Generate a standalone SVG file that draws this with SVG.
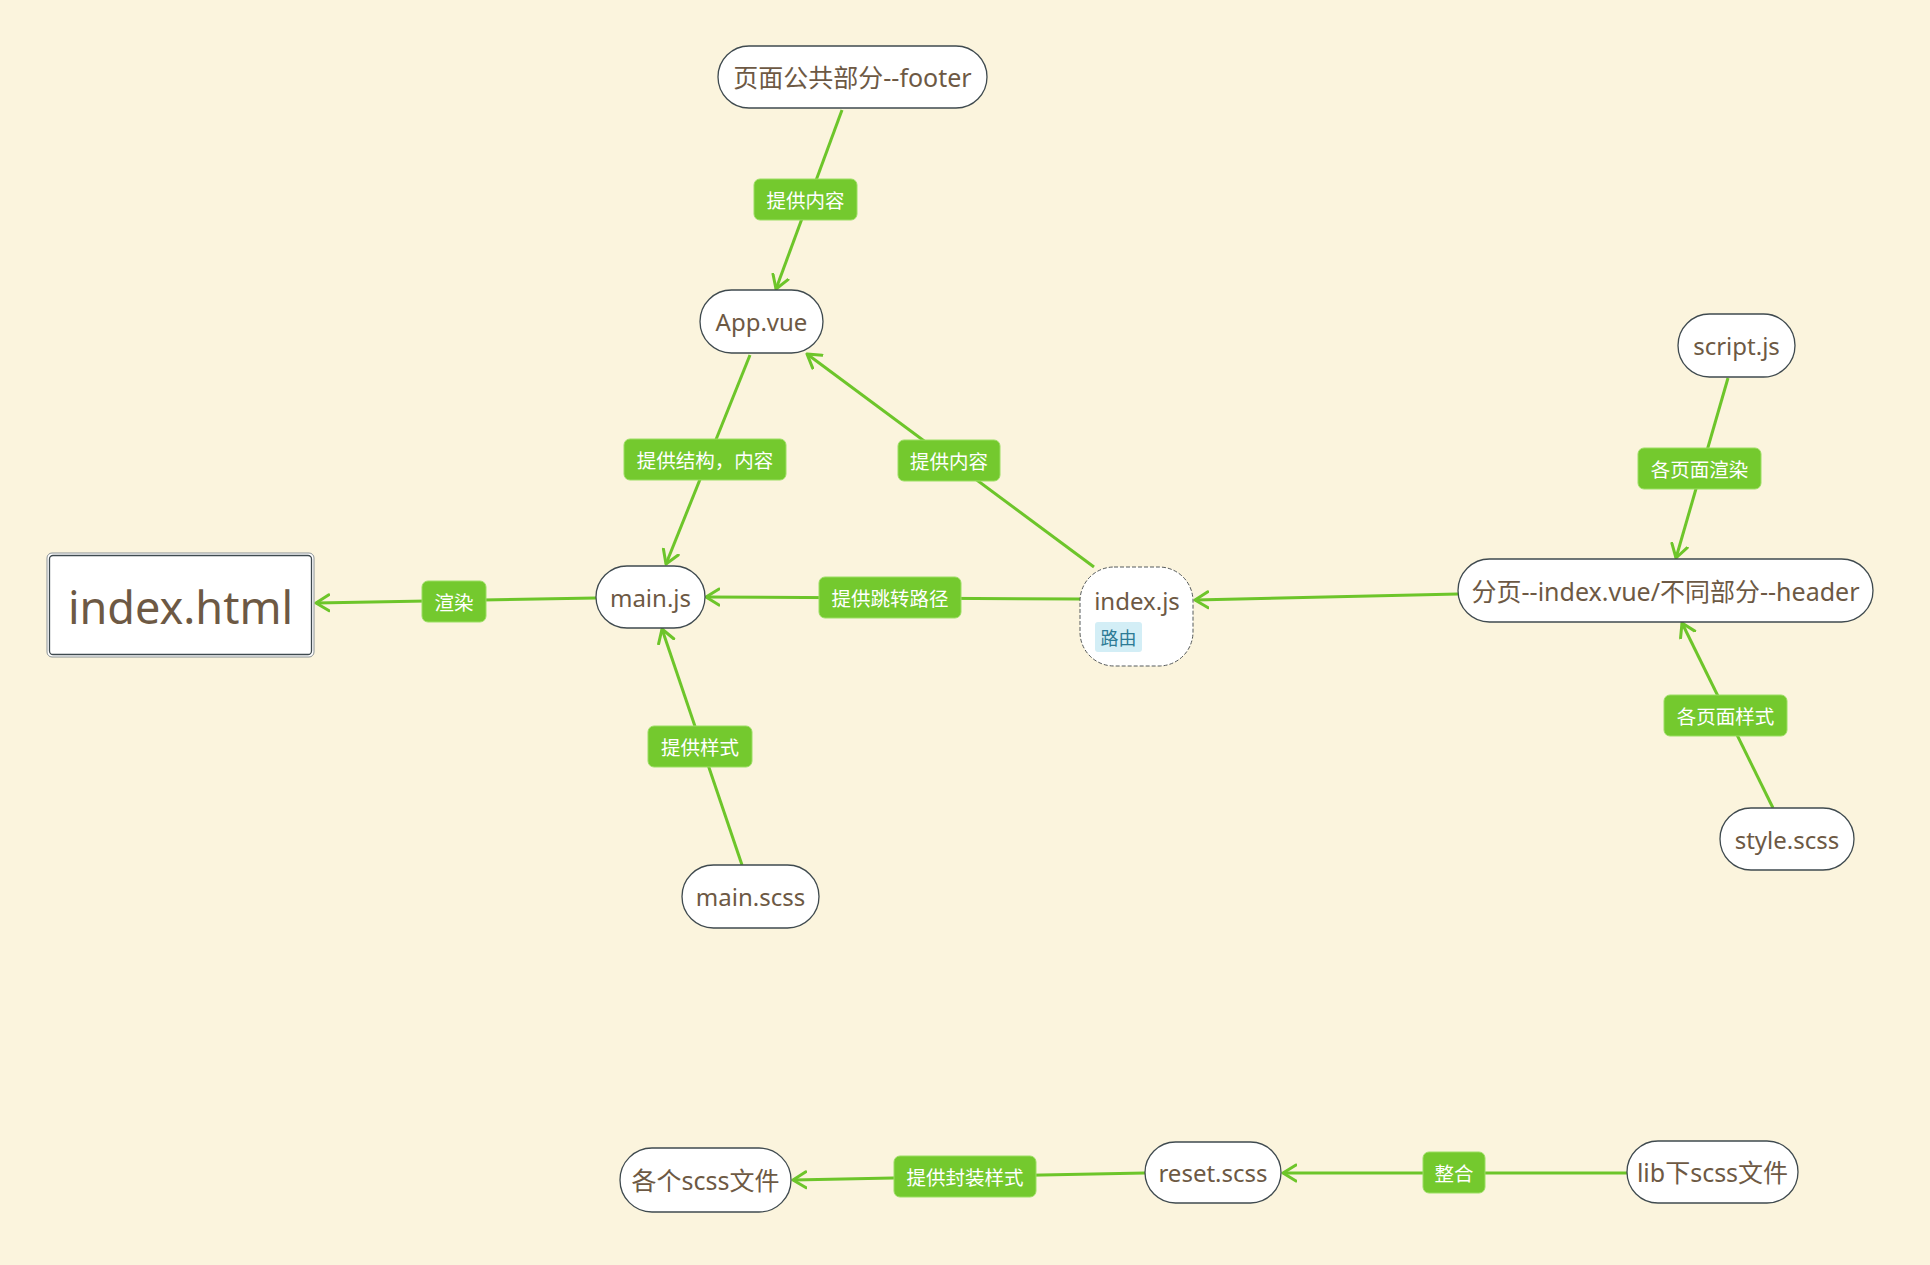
<svg xmlns="http://www.w3.org/2000/svg" width="1930" height="1265" viewBox="0 0 1930 1265">
  <style>
    .node rect.shape { fill: #ffffff; stroke: #3f4a4f; stroke-width: 1.3; }
    .node text { font-family: "Noto Sans", "Noto Sans CJK SC", sans-serif; font-size: 24px; fill: #6d5944; text-anchor: middle; dominant-baseline: central; }
    .node text.cjk { font-size: 25px; }
    .edge { stroke: #6dc52a; stroke-width: 3; fill: none; marker-end: url(#arrow); }
    .label rect { fill: #74c92e; stroke: #9bde63; stroke-width: 1; }
    .label text { font-family: "Noto Sans CJK SC", "Noto Sans", sans-serif; font-size: 19.5px; fill: #ffffff; text-anchor: middle; dominant-baseline: central; }
  </style>
  <defs>
    <marker id="arrow" viewBox="0 0 16 20" refX="14" refY="10" markerWidth="16" markerHeight="20" markerUnits="userSpaceOnUse" orient="auto">
      <path d="M1,2 L14,10 L1,18" fill="none" stroke="#6dc52a" stroke-width="3" stroke-linecap="round" stroke-linejoin="round"/>
    </marker>
  </defs>

  <rect x="0" y="0" width="1930" height="1265" fill="#fbf4dd"/>

  <!-- connectors -->
  <g id="connectors">
    <line class="edge" x1="842" y1="110" x2="776" y2="289"/>
    <line class="edge" x1="750" y1="355" x2="666" y2="564"/>
    <line class="edge" x1="1094" y1="567" x2="807" y2="354"/>
    <line class="edge" x1="1080" y1="599" x2="706" y2="597"/>
    <line class="edge" x1="596" y1="598" x2="316" y2="603"/>
    <line class="edge" x1="742" y1="865" x2="662" y2="629"/>
    <line class="edge" x1="1458" y1="594" x2="1195" y2="600"/>
    <line class="edge" x1="1728" y1="378" x2="1676" y2="558"/>
    <line class="edge" x1="1773" y1="808" x2="1682" y2="623"/>
    <line class="edge" x1="1145" y1="1173" x2="793" y2="1180"/>
    <line class="edge" x1="1627" y1="1173" x2="1283" y2="1173"/>
  </g>

  <!-- connector labels -->
  <g id="labels">
    <g class="label"><rect x="754" y="179" width="103" height="41" rx="6"/><text x="805.5" y="199.5">提供内容</text></g>
    <g class="label"><rect x="624" y="439" width="162" height="41" rx="6"/><text x="705" y="459.5">提供结构，内容</text></g>
    <g class="label"><rect x="898" y="440" width="102" height="41" rx="6"/><text x="949" y="460.5">提供内容</text></g>
    <g class="label"><rect x="819" y="577" width="142" height="41" rx="6"/><text x="890" y="597.5">提供跳转路径</text></g>
    <g class="label"><rect x="422" y="581" width="64" height="41" rx="6"/><text x="454" y="601.5">渲染</text></g>
    <g class="label"><rect x="648" y="726" width="104" height="41" rx="6"/><text x="700" y="746.5">提供样式</text></g>
    <g class="label"><rect x="1638" y="448" width="123" height="41" rx="6"/><text x="1699.5" y="468.5">各页面渲染</text></g>
    <g class="label"><rect x="1664" y="695" width="123" height="41" rx="6"/><text x="1725.5" y="715.5">各页面样式</text></g>
    <g class="label"><rect x="894" y="1156" width="142" height="41" rx="6"/><text x="965" y="1176.5">提供封装样式</text></g>
    <g class="label"><rect x="1423" y="1152" width="62" height="41" rx="6"/><text x="1454" y="1172.5">整合</text></g>
  </g>

  <!-- nodes -->
  <g id="node-footer" class="node">
    <rect class="shape" x="718" y="46" width="269" height="62" rx="31"/>
    <text class="cjk" x="852.5" y="77">页面公共部分--footer</text>
  </g>
  <g id="node-app-vue" class="node">
    <rect class="shape" x="700" y="290" width="123" height="63" rx="31.5"/>
    <text x="761.5" y="321.5">App.vue</text>
  </g>
  <g id="node-index-html" class="node">
    <rect x="47" y="553" width="267" height="104" rx="5" fill="#ffffff" stroke="#8a9296" stroke-width="1"/>
    <rect x="49.5" y="555.5" width="262" height="99" rx="3.5" fill="none" stroke="#3f4a4f" stroke-width="1.3"/>
    <text x="180.5" y="606" style="font-size:45px">index.html</text>
  </g>
  <g id="node-main-js" class="node">
    <rect class="shape" x="596" y="566" width="109" height="62" rx="31"/>
    <text x="650.5" y="597">main.js</text>
  </g>
  <g id="node-index-js" class="node">
    <rect x="1080" y="567" width="113" height="99" rx="34" fill="#ffffff" stroke="#555a5c" stroke-width="1" stroke-dasharray="4 2"/>
    <text x="1137" y="600">index.js</text>
    <rect x="1095" y="622" width="47" height="30" rx="3" fill="#d3eef6"/>
    <text x="1118.5" y="637" style="font-size:18px;fill:#2d7b95;font-family:'Noto Sans CJK SC',sans-serif">路由</text>
  </g>
  <g id="node-main-scss" class="node">
    <rect class="shape" x="682" y="865" width="137" height="63" rx="31.5"/>
    <text x="750.5" y="896.5">main.scss</text>
  </g>
  <g id="node-header" class="node">
    <rect class="shape" x="1458" y="559" width="415" height="63" rx="31.5"/>
    <text class="cjk" x="1665.5" y="590.5">分页--index.vue/不同部分--header</text>
  </g>
  <g id="node-script-js" class="node">
    <rect class="shape" x="1678" y="314" width="117" height="63" rx="31.5"/>
    <text x="1736.5" y="345.5">script.js</text>
  </g>
  <g id="node-style-scss" class="node">
    <rect class="shape" x="1720" y="808" width="134" height="62" rx="31"/>
    <text x="1787" y="839">style.scss</text>
  </g>
  <g id="node-scss-files" class="node">
    <rect class="shape" x="620" y="1148" width="171" height="64" rx="32"/>
    <text class="cjk" x="705.5" y="1180">各个scss文件</text>
  </g>
  <g id="node-reset-scss" class="node">
    <rect class="shape" x="1145" y="1142" width="136" height="61" rx="30.5"/>
    <text x="1213" y="1172.5">reset.scss</text>
  </g>
  <g id="node-lib-scss" class="node">
    <rect class="shape" x="1627" y="1141" width="171" height="62" rx="31"/>
    <text class="cjk" x="1712.5" y="1172">lib下scss文件</text>
  </g>
</svg>
